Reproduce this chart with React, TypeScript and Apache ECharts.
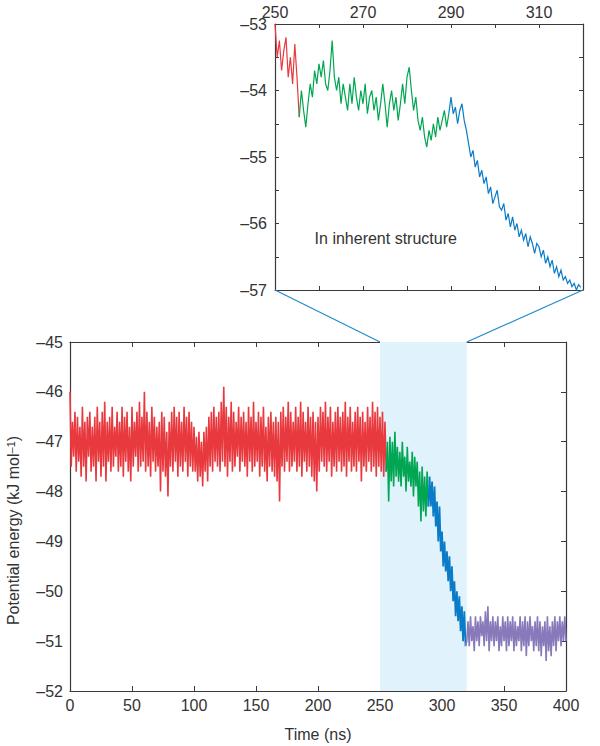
import React, { useEffect, useRef } from "react";
import * as echarts from "echarts";

// ---------- Data ----------
// Main panel: potential energy (kJ mol^-1), sampled every 1 ns
const mainStep = 1;
const redStart = 0;
const redValues = [
  -46.0, -47.5, -46.6, -47.3, -46.4, -47.6, -46.5, -47.4, -46.7, -47.7, -46.3, -47.5, -46.6, -47.8, -46.5, -47.3, -46.4, -47.6, -46.7, -47.5,
  -46.5, -47.8, -46.3, -47.4, -46.6, -47.7, -46.4, -47.5, -46.2, -47.8, -46.6, -47.4, -46.5, -47.6, -46.3, -47.5, -46.7, -47.3, -46.4, -47.6,
  -46.6, -47.5, -46.3, -47.7, -46.5, -47.4, -46.4, -47.6, -46.7, -47.8, -46.3, -47.5, -46.6, -47.3, -46.4, -47.6, -46.2, -47.5, -46.5, -47.4,
  -46.0, -47.6, -46.4, -47.5, -46.6, -47.7, -46.3, -47.4, -46.5, -47.6, -46.7, -47.5, -46.6, -48.0, -46.4, -47.6, -46.5, -47.7, -46.8, -48.1,
  -46.6, -47.5, -46.4, -47.6, -46.3, -47.4, -46.5, -47.7, -46.4, -47.5, -46.6, -47.6, -46.3, -47.4, -46.5, -47.7, -46.4, -47.5, -46.6, -47.6,
  -46.7, -47.6, -46.9, -47.8, -46.8, -47.7, -47.0, -47.9, -46.8, -47.6, -46.7, -47.8, -46.5, -47.5, -46.4, -47.6, -46.3, -47.4, -46.5, -47.5,
  -46.4, -47.6, -46.2, -47.4, -45.9, -47.5, -46.3, -47.7, -46.5, -47.4, -46.2, -47.6, -46.4, -47.5, -46.6, -47.3, -46.3, -47.6, -46.5, -47.4,
  -46.4, -47.5, -46.6, -47.7, -46.3, -47.4, -46.5, -47.6, -46.2, -47.5, -46.6, -47.4, -46.4, -47.7, -46.5, -47.5, -46.3, -47.6, -46.7, -47.8,
  -46.5, -47.5, -46.4, -47.6, -46.6, -47.7, -46.5, -47.8, -46.6, -48.2, -46.4, -47.5, -46.3, -47.6, -46.5, -47.4, -46.2, -47.6, -46.4, -47.5,
  -46.6, -47.4, -46.3, -47.6, -46.5, -47.5, -46.2, -47.7, -46.4, -47.4, -46.6, -47.6, -46.3, -47.5, -46.5, -47.7, -46.4, -47.8, -46.6, -48.0,
  -46.5, -47.6, -46.3, -47.4, -46.4, -47.5, -46.2, -47.6, -46.5, -47.4, -46.3, -47.7, -46.6, -47.5, -46.4, -47.6, -46.3, -47.4, -46.5, -47.6,
  -46.4, -47.5, -46.2, -47.7, -46.5, -47.4, -46.3, -47.6, -46.6, -47.5, -46.4, -47.6, -46.3, -47.4, -46.5, -47.8, -46.4, -47.5, -46.6, -47.6,
  -46.3, -47.4, -46.5, -47.6, -46.2, -47.5, -46.4, -47.7, -46.3, -47.5, -46.5, -47.6, -46.4, -47.7, -46.6, -47.6,
];
const greenStart = 256;
const greenValues = [
  -47.0, -48.2, -46.9, -47.8, -47.0, -47.9, -46.8, -47.7, -47.1, -47.8,
  -47.2, -47.9, -47.0, -47.7, -47.3, -48.0, -47.1, -47.8, -47.4, -47.9,
  -47.2, -48.1, -47.3, -47.9, -47.4, -48.3, -47.6, -48.6, -47.5, -48.4,
  -47.7, -48.5, -47.6, -48.3,
];
const blueStart = 290;
const blueValues = [
  -47.7, -48.3, -47.8, -48.5, -47.9, -48.7, -48.2, -49.0, -48.3, -49.2,
  -48.8, -49.5, -49.0, -49.6, -49.2, -49.8, -49.3, -50.0, -49.5, -50.2,
  -49.8, -50.5, -50.0, -50.6, -50.1, -50.8, -50.3, -51.0, -50.4, -51.1,
];
const purpleStart = 320;
const purpleValues = [
  -51.0, -50.6, -51.1, -50.5, -51.0, -50.7, -51.2, -50.5, -51.0, -50.6,
  -51.1, -50.5, -50.9, -50.6, -51.1, -50.4, -51.0, -50.3, -51.2, -50.6,
  -51.0, -50.5, -51.1, -50.6, -51.0, -50.5, -51.2, -50.7, -51.1, -50.5,
  -51.0, -50.6, -51.2, -50.5, -51.1, -50.6, -51.0, -50.5, -51.2, -50.6,
  -51.1, -50.7, -51.0, -50.5, -51.2, -50.6, -51.1, -50.5, -51.3, -50.6,
  -51.1, -50.5, -51.0, -50.7, -51.2, -50.6, -51.1, -50.5, -51.2, -50.6,
  -51.3, -50.7, -51.1, -50.6, -51.4, -50.5, -51.2, -50.7, -51.3, -50.6,
  -51.1, -50.5, -51.2, -50.6, -51.0, -50.5, -51.1, -50.6, -51.0, -50.5,
  -51.0,
];

// Inset: inherent-structure energy, sampled every 0.5 ns
const insetStep = 0.5;
const insetRedStart = 250;
const insetRedValues = [-53.0, -53.5, -53.25, -53.7, -53.4, -53.2, -53.8, -53.5, -53.9, -53.3, -53.8, -54.4];
const insetGreenStart = 256;
const insetGreenValues = [
  -54.0, -54.3, -54.55, -54.2, -53.9, -54.1, -53.7, -53.9,
  -53.6, -53.8, -53.55, -53.9, -54.0, -53.7, -53.25, -53.8,
  -54.0, -53.8, -54.2, -53.9, -54.1, -54.3, -53.9, -54.2,
  -53.8, -54.1, -54.3, -54.0, -54.2, -53.9, -54.35, -54.1,
  -54.0, -54.3, -54.1, -54.45, -54.2, -53.9, -54.2, -54.55,
  -54.2, -54.0, -54.3, -54.1, -54.45, -54.2, -53.9, -54.2,
  -53.8, -53.65, -54.0, -54.3, -54.1, -54.45, -54.6, -54.4,
  -54.7, -54.85, -54.6, -54.75, -54.5, -54.7, -54.4, -54.6,
  -54.45, -54.3, -54.55, -54.35,
];
const insetBlueStart = 290;
const insetBlueValues = [
  -54.1, -54.35, -54.25, -54.5, -54.3, -54.2, -54.45, -54.6,
  -54.8, -55.0, -54.9, -55.15, -55.05, -55.3, -55.2, -55.4,
  -55.3, -55.55, -55.45, -55.7, -55.6, -55.5, -55.75, -55.8,
  -55.7, -55.95, -55.85, -56.05, -55.9, -56.1, -56.0, -56.2,
  -56.1, -56.25, -56.15, -56.35, -56.2, -56.3, -56.45, -56.3,
  -56.35, -56.5, -56.4, -56.6, -56.5, -56.65, -56.55, -56.75,
  -56.65, -56.8, -56.7, -56.85, -56.8, -56.9, -56.85, -56.95,
  -56.9, -57.0, -56.92, -56.96,
];

// Axes
const mainX = { min: 0, max: 400, interval: 50 };
const mainY = { min: -52, max: -45, interval: 1 };
const insetX = { min: 250, max: 320, interval: 10, labelEvery: 20 };
const insetY = { min: -57, max: -53, interval: 0.5 };
const shade = [250, 320];
const annotation = { text: "In inherent structure", x: 259, y: -56.22 };

// ---------- Styles ----------
const FONT = '"Liberation Sans", Arial, Helvetica, sans-serif';
const TXT = "#333";
const AX = "#3a3a3a";
const RED = "#e8393e";
const GREEN = "#00a651";
const BLUE = "#0a7bc6";
const PURPLE = "#8779ba";
const SHADE = "#e0f2fc";
const LINK = "#1f8bcb";
const FS = 16;

const fmtMinus = (v: number) => (v < 0 ? "\u2013" + Math.abs(v) : String(v));

function toPoints(start: number, step: number, vals: number[]) {
  return vals.map((v, i) => [start + i * step, v]);
}
function withPrev(prev: number[][], pts: number[][]) {
  return prev.length ? [prev[prev.length - 1], ...pts] : pts;
}

export default function App() {
  const ref = useRef<HTMLDivElement>(null);

  useEffect(() => {
    document.body.style.margin = "0";
    if (!ref.current) return;
    const chart = echarts.init(ref.current, undefined, { renderer: "svg" });

    const red = toPoints(redStart, mainStep, redValues);
    const green = withPrev(red, toPoints(greenStart, mainStep, greenValues));
    const blue = withPrev(green, toPoints(blueStart, mainStep, blueValues));
    const purple = withPrev(blue, toPoints(purpleStart, mainStep, purpleValues));

    const iRed = toPoints(insetRedStart, insetStep, insetRedValues);
    const iGreen = withPrev(iRed, toPoints(insetGreenStart, insetStep, insetGreenValues));
    const iBlue = withPrev(iGreen, toPoints(insetBlueStart, insetStep, insetBlueValues));

    const axisLine = { show: true, onZero: false, lineStyle: { color: AX, width: 1.2 } };
    const label = { color: TXT, fontSize: FS, fontFamily: FONT };

    const line = (data: number[][], color: string, xi: number, yi: number, width: number, extra: any = {}) => ({
      type: "line",
      data,
      xAxisIndex: xi,
      yAxisIndex: yi,
      showSymbol: false,
      symbol: "none",
      silent: true,
      lineStyle: { color, width, join: "miter" },
      ...extra,
    });

    const option: any = {
      animation: false,
      grid: [
        { left: 70, top: 342, width: 496, height: 349 },
        { left: 275, top: 24, width: 308, height: 266 },
      ],
      xAxis: [
        {
          gridIndex: 0, type: "value", position: "bottom", ...mainX,
          axisLine, splitLine: { show: false },
          axisTick: { inside: true, length: 5, lineStyle: { color: AX } },
          axisLabel: { ...label, margin: 6 },
          name: "Time (ns)", nameLocation: "middle", nameGap: 35,
          nameTextStyle: { ...label },
        },
        {
          gridIndex: 0, type: "value", position: "top", ...mainX,
          axisLine, splitLine: { show: false },
          axisTick: { inside: true, length: 5, lineStyle: { color: AX } },
          axisLabel: { show: false },
        },
        {
          gridIndex: 1, type: "value", position: "top",
          min: insetX.min, max: insetX.max, interval: insetX.interval,
          axisLine, splitLine: { show: false },
          axisTick: { inside: true, length: 4, lineStyle: { color: AX } },
          axisLabel: {
            ...label, margin: 4,
            formatter: (v: number) => ((v - insetX.min) % insetX.labelEvery === 0 ? String(v) : ""),
          },
        },
        {
          gridIndex: 1, type: "value", position: "bottom",
          min: insetX.min, max: insetX.max, interval: insetX.interval,
          axisLine, splitLine: { show: false },
          axisTick: { inside: true, length: 4, lineStyle: { color: AX } },
          axisLabel: { show: false },
        },
      ],
      yAxis: [
        {
          gridIndex: 0, type: "value", position: "left", ...mainY,
          axisLine, splitLine: { show: false },
          axisTick: { show: false },
          axisLabel: { ...label, margin: 7, formatter: fmtMinus },
        },
        {
          gridIndex: 0, type: "value", position: "right", ...mainY,
          axisLine, splitLine: { show: false },
          axisTick: { inside: true, length: 5, lineStyle: { color: AX } },
          axisLabel: { show: false },
        },
        {
          gridIndex: 1, type: "value", position: "left", ...insetY,
          axisLine, splitLine: { show: false },
          axisTick: { inside: true, length: 4, lineStyle: { color: AX } },
          axisLabel: {
            ...label, margin: 8,
            formatter: (v: number) => (Number.isInteger(v) ? fmtMinus(v) : ""),
          },
        },
        {
          gridIndex: 1, type: "value", position: "right", ...insetY,
          axisLine, splitLine: { show: false },
          axisTick: { inside: true, length: 4, lineStyle: { color: AX } },
          axisLabel: { show: false },
        },
      ],
      series: [
        line(red, RED, 0, 0, 1.6, {
          markArea: {
            silent: true,
            itemStyle: { color: SHADE },
            data: [[{ xAxis: shade[0] }, { xAxis: shade[1] }]],
          },
        }),
        line(green, GREEN, 0, 0, 1.6),
        line(blue, BLUE, 0, 0, 1.8),
        line(purple, PURPLE, 0, 0, 1.6),
        line(iRed, RED, 2, 2, 1.2),
        line(iGreen, GREEN, 2, 2, 1.2),
        line(iBlue, BLUE, 2, 2, 1.2),
      ],
    };
    chart.setOption(option);

    const a = chart.convertToPixel({ gridIndex: 0 }, [shade[0], mainY.max]);
    const b = chart.convertToPixel({ gridIndex: 0 }, [shade[1], mainY.max]);
    const c = chart.convertToPixel({ gridIndex: 1 }, [insetX.min, insetY.min]);
    const d = chart.convertToPixel({ gridIndex: 1 }, [insetX.max, insetY.min]);
    const t = chart.convertToPixel({ gridIndex: 1 }, [annotation.x, annotation.y]);
    const grid0Top = chart.convertToPixel({ gridIndex: 0 }, [mainX.min, mainY.max]);
    const grid0Bot = chart.convertToPixel({ gridIndex: 0 }, [mainX.min, mainY.min]);

    chart.setOption({
      graphic: [
        { type: "line", silent: true, z: 10, shape: { x1: c[0], y1: c[1], x2: a[0], y2: a[1] }, style: { stroke: LINK, lineWidth: 1.2 } },
        { type: "line", silent: true, z: 10, shape: { x1: d[0], y1: d[1], x2: b[0], y2: b[1] }, style: { stroke: LINK, lineWidth: 1.2 } },
        {
          type: "text", silent: true, x: t[0], y: t[1],
          style: { text: annotation.text, fill: TXT, fontSize: FS, fontFamily: FONT, align: "left", verticalAlign: "middle" },
        },
        {
          type: "text", silent: true,
          x: 13, y: (grid0Top[1] + grid0Bot[1]) / 2 + 14,
          rotation: Math.PI / 2,
          style: {
            text: "{a|Potential energy (kJ mol}{s|\u20131}{a|)}",
            align: "center", verticalAlign: "middle",
            rich: {
              a: { fontSize: FS, fontFamily: FONT, fill: TXT, color: TXT },
              s: { fontSize: 11, fontFamily: FONT, fill: TXT, color: TXT, verticalAlign: "top" },
            },
          },
        },
      ],
    });

    return () => chart.dispose();
  }, []);

  return <div ref={ref} style={{ width: 600, height: 746 }} />;
}
